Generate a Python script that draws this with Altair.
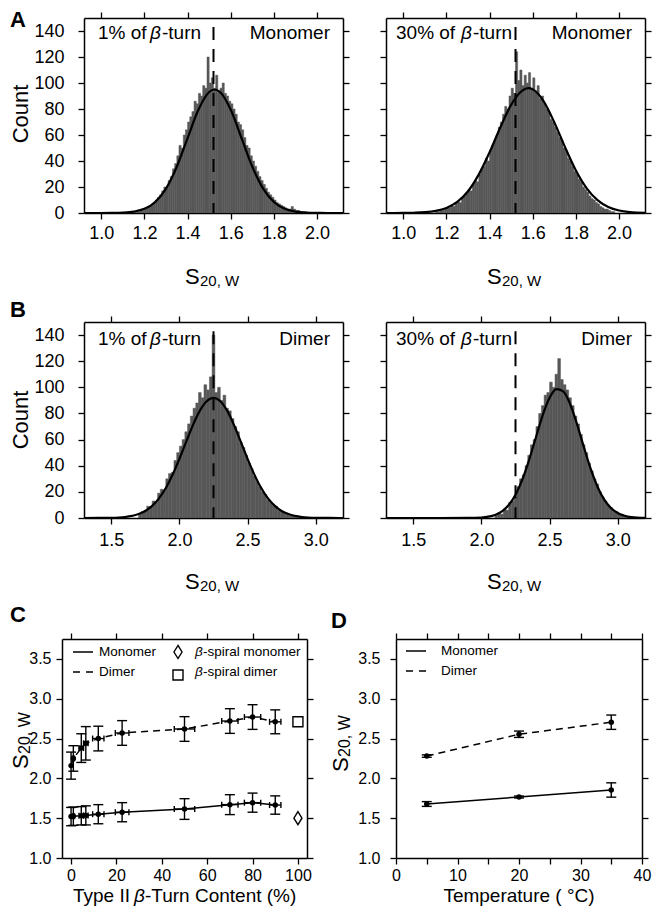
import altair as alt
import pandas as pd

FONT = "Liberation Sans"

# ---------------- data ----------------
# Panel A (monomer) -- histogram counts per 0.01 bin, Gaussian fit sampled points
A1_START, A1_STEP = 1.15, 0.01
A1_COUNTS = [1, 1, 1, 2, 2, 3, 4, 5, 6, 8,
             10, 12, 14, 17, 20, 19, 25, 28, 34, 38,
             44, 52, 50, 60, 64, 70, 74, 78, 86, 84,
             92, 90, 98, 96, 120, 100, 104, 96, 106, 94,
             96, 100, 92, 90, 86, 84, 80, 76, 70, 68,
             64, 58, 52, 50, 44, 40, 36, 32, 28, 25,
             22, 19, 16, 14, 12, 10, 8, 7, 6, 5,
             4, 3, 3, 5, 3, 2, 2, 1, 1, 1]
A1_FIT_X = [0.92, 1.0, 1.05, 1.1, 1.15, 1.2, 1.25, 1.3, 1.35, 1.4, 1.45, 1.5, 1.525,
            1.55, 1.6, 1.65, 1.7, 1.75, 1.8, 1.85, 1.9, 1.95, 2.0, 2.05, 2.12]
A1_FIT_Y = [0, 0.01, 0.07, 0.3, 1.05, 3.2, 8.5, 18.8, 35.6, 57.6, 79.4, 93.1, 95,
            93.1, 79.4, 57.6, 35.6, 18.8, 8.5, 3.2, 1.05, 0.3, 0.07, 0.01, 0]

A2_START, A2_STEP = 1.15, 0.01
A2_COUNTS = [1, 1, 2, 2, 3, 4, 4, 6, 5, 8,
             9, 8, 12, 13, 15, 18, 17, 22, 25, 24,
             30, 34, 36, 42, 40, 48, 52, 56, 60, 66,
             70, 76, 82, 80, 90, 96, 92, 124, 102, 110,
             98, 106, 100, 108, 96, 104, 94, 98, 88, 90,
             84, 80, 78, 72, 70, 66, 62, 58, 56, 50,
             48, 42, 40, 36, 32, 30, 26, 24, 20, 18,
             16, 13, 11, 10, 8, 7, 5, 4, 3, 3,
             2, 1, 1]
A2_FIT_X = [0.92, 1.0, 1.05, 1.1, 1.15, 1.2, 1.25, 1.3, 1.35, 1.4, 1.45, 1.5, 1.55,
            1.58, 1.6, 1.65, 1.7, 1.75, 1.8, 1.85, 1.9, 1.95, 2.0, 2.05, 2.12]
A2_FIT_Y = [0, 0.05, 0.2, 0.6, 1.6, 3.9, 8.5, 16.7, 29.7, 46.7, 66, 83.3, 94,
            96, 95.1, 86.1, 69.7, 50.5, 32.7, 19, 9.9, 4.6, 1.9, 0.7, 0.2]

# Panel B (dimer) -- histogram counts per 0.02 bin
B1_START, B1_STEP = 1.70, 0.02
B1_COUNTS = [3, 5, 6, 9, 8, 13, 12, 19, 22, 21,
             30, 34, 35, 44, 50, 55, 60, 66, 72, 78,
             84, 88, 96, 92, 102, 98, 108, 140, 96, 100,
             90, 94, 84, 82, 76, 70, 66, 58, 54, 48,
             42, 38, 32, 28, 24, 20, 18, 14, 12, 10,
             9, 6, 5, 4, 3, 2, 2, 1, 1, 1]
B1_FIT_X = [1.3, 1.4, 1.5, 1.6, 1.7, 1.75, 1.8, 1.85, 1.9, 1.95, 2.0, 2.05, 2.1, 2.15,
            2.2, 2.25, 2.3, 2.35, 2.4, 2.45, 2.5, 2.55, 2.6, 2.65, 2.7, 2.75, 2.8,
            2.9, 3.0, 3.1, 3.2]
B1_FIT_Y = [0, 0.03, 0.16, 0.76, 3.0, 5.4, 9.3, 15, 22.9, 33.2, 45.3, 58.4, 71.3, 82.2,
            89.4, 92, 89.4, 82.2, 71.3, 58.4, 45.3, 33.2, 22.9, 15, 9.3, 5.4, 3.0,
            0.76, 0.16, 0.03, 0]

B2_START, B2_STEP = 2.10, 0.02
B2_COUNTS = [2, 4, 3, 7, 6, 12, 13, 16, 24, 30,
             33, 40, 48, 56, 60, 70, 80, 86, 94, 96,
             104, 100, 110, 122, 106, 102, 98, 92, 86, 78,
             72, 64, 56, 50, 42, 36, 30, 26, 20, 16,
             13, 10, 8, 6, 5, 3, 3, 2, 1, 1]
B2_FIT_X = [1.3, 1.5, 1.7, 1.9, 2.0, 2.05, 2.1, 2.15, 2.2, 2.25, 2.3, 2.35, 2.4, 2.45,
            2.5, 2.55, 2.6, 2.65, 2.7, 2.75, 2.8, 2.85, 2.9, 2.95, 3.0, 3.05, 3.1, 3.2]
B2_FIT_Y = [0, 0, 0, 0.05, 0.4, 1.0, 2.3, 5.0, 9.9, 17.8, 29.4, 44.5, 61.8, 78.8,
            92, 98.6, 96.9, 87.4, 72.2, 54.8, 38.1, 24.3, 14.2, 7.6, 3.8, 1.7, 0.7, 0.1]

MONO_REF = 1.52
DIMER_REF = 2.25
REF_TOP = 143

A_XTICKS = [1.0, 1.2, 1.4, 1.6, 1.8, 2.0]
B_XTICKS = [1.5, 2.0, 2.5, 3.0]
COUNT_TICKS = [0, 20, 40, 60, 80, 100, 120, 140]

# Panel C
C_X = [0, 1, 4.5, 6.5, 12, 22.5, 50, 70, 80, 90]
C_XERR = [0, 0.5, 1, 1, 2.5, 3, 4.5, 3.6, 3.6, 2.5]
C_MONO = [1.52, 1.525, 1.53, 1.535, 1.55, 1.575, 1.615, 1.67, 1.695, 1.665]
C_MONO_ERR = [0.115, 0.115, 0.115, 0.12, 0.12, 0.12, 0.13, 0.125, 0.12, 0.115]
C_DIMER = [2.16, 2.25, 2.38, 2.44, 2.50, 2.57, 2.62, 2.72, 2.77, 2.71]
C_DIMER_ERR = [0.17, 0.16, 0.18, 0.21, 0.155, 0.155, 0.155, 0.155, 0.155, 0.15]
SPIRAL_X = 100
SPIRAL_MONO = 1.50
SPIRAL_DIMER = 2.71

# Panel D
D_X = [5, 20, 35]
D_MONO = [1.678, 1.766, 1.854]
D_MONO_ERR = [0.03, 0.012, 0.09]
D_DIMER = [2.28, 2.554, 2.705]
D_DIMER_ERR = [0.015, 0.04, 0.09]

S_TICKS = [1.0, 1.5, 2.0, 2.5, 3.0, 3.5]
C_XTICKS = [0, 20, 40, 60, 80, 100]
D_XTICKS = [0, 5, 10, 15, 20, 25, 30, 35, 40]

DIAMOND = "M0,-1L0.62,0L0,1L-0.62,0Z"
ONE = pd.DataFrame({"k": [0]})
BAR_GRAY = "#575757"


# ---------------- helpers ----------------
def axis(orient, values, labels=True, fmt=None, size=18, pad=5, expr=None):
    kw = dict(orient=orient, values=values, labels=labels, title=None, grid=False,
              ticks=True, tickSize=6, tickWidth=1.3, tickColor="black",
              domain=True, domainColor="black", domainWidth=1.5,
              labelFont=FONT, labelFontSize=size, labelColor="black",
              labelPadding=pad, labelFlush=False, labelOverlap=False)
    if fmt:
        kw["format"] = fmt
    if expr:
        kw["labelExpr"] = expr
    return alt.Axis(**kw)


def T(s, x, y, size, align="left", baseline="alphabetic", angle=0,
      weight="normal", style="normal"):
    kw = dict(text=s, font=FONT, fontSize=size, align=align, baseline=baseline,
              fontWeight=weight, fontStyle=style, color="black")
    if angle:
        kw["angle"] = angle
    return alt.Chart(ONE).mark_text(**kw).encode(x=alt.value(x), y=alt.value(y))


def prule(x1, x2, y, dash=None):
    kw = dict(color="black", strokeWidth=1.5)
    if dash:
        kw["strokeDash"] = dash
    return alt.Chart(ONE).mark_rule(**kw).encode(
        x=alt.value(x1), x2=alt.value(x2), y=alt.value(y))


def psym(shape, x, y, size):
    return alt.Chart(ONE).mark_point(shape=shape, size=size, filled=False,
                                     color="black", strokeWidth=1.4, opacity=1).encode(
        x=alt.value(x), y=alt.value(y))


def spacer():
    return alt.Chart(ONE).mark_rule(opacity=0, strokeWidth=0.1).encode(
        x=alt.value(0), x2=alt.value(1), y=alt.value(0)).properties(width=1, height=1)


def hist_panel(start, step, counts, fit_x, fit_y, ref_x, xdom, xticks, w, h,
               pct, pct_x, beta_x, turn_x, kind, show_y, xpad, text_y, s_y, extra):
    n = len(counts)
    dh = pd.DataFrame({"x0": [start + i * step for i in range(n)], "c": counts})
    dh["x1"] = dh["x0"] + step
    xs = alt.Scale(domain=xdom, nice=False, zero=False)
    ys = alt.Scale(domain=[0, 150], nice=False, zero=False)
    bars = alt.Chart(dh).mark_rect(color=BAR_GRAY, stroke=BAR_GRAY, strokeWidth=0.5,
                                   clip=True).encode(
        x=alt.X("x0:Q", scale=xs, axis=axis("bottom", xticks, fmt=".1f", pad=xpad)),
        x2="x1:Q",
        y=alt.Y("c:Q", scale=ys, axis=axis("left", COUNT_TICKS, labels=show_y,
                                          fmt="d", pad=14)),
        y2=alt.datum(0))
    dc = pd.DataFrame({"x": fit_x, "y": fit_y})
    curve = alt.Chart(dc).mark_line(color="black", strokeWidth=2.2,
                                    interpolate="monotone", clip=True).encode(
        x=alt.X("x:Q", scale=xs, axis=axis("top", xticks, labels=False)),
        y=alt.Y("y:Q", scale=ys, axis=axis("right", COUNT_TICKS, labels=False)))
    dr = pd.DataFrame({"x": [ref_x], "top": [REF_TOP], "bot": [0]})
    ref = alt.Chart(dr).mark_rule(color="black", strokeWidth=2,
                                  strokeDash=[13, 9]).encode(
        x=alt.X("x:Q", scale=xs, axis=None),
        y=alt.Y("top:Q", scale=ys, axis=None),
        y2="bot:Q")
    layers = [bars, curve, ref,
              T(pct, pct_x, text_y, 19),
              T("\u03b2", beta_x, text_y, 19, style="italic"),
              T("-turn", turn_x, text_y, 19),
              T(kind, w - 13, text_y, 19, align="right"),
              T("S", 101, s_y, 22),
              T("20, W", 116, s_y + 2, 15)]
    layers += extra
    return alt.layer(*layers).resolve_axis(x="independent", y="independent").properties(
        width=w, height=h)


def err_layers(xv, yv, ev, xerr, xs, ys):
    d = pd.DataFrame({"x": xv, "y": yv, "e": ev, "xe": xerr})
    d["lo"] = d["y"] - d["e"]
    d["hi"] = d["y"] + d["e"]
    d["xlo"] = d["x"] - d["xe"]
    d["xhi"] = d["x"] + d["xe"]
    X = lambda f: alt.X(f, scale=xs, axis=None)
    Y = lambda f: alt.Y(f, scale=ys, axis=None)
    out = [
        alt.Chart(d).mark_rule(color="black", strokeWidth=1.4).encode(
            x=X("x:Q"), y=Y("lo:Q"), y2="hi:Q"),
        alt.Chart(d).mark_tick(color="black", orient="horizontal", size=10,
                               thickness=1.4, opacity=1).encode(x=X("x:Q"), y=Y("lo:Q")),
        alt.Chart(d).mark_tick(color="black", orient="horizontal", size=10,
                               thickness=1.4, opacity=1).encode(x=X("x:Q"), y=Y("hi:Q")),
    ]
    dx = d[d["xe"] > 0]
    if len(dx):
        out += [
            alt.Chart(dx).mark_rule(color="black", strokeWidth=1.4).encode(
                x=X("xlo:Q"), x2="xhi:Q", y=Y("y:Q")),
            alt.Chart(dx).mark_tick(color="black", orient="vertical", size=6,
                                    thickness=1.4, opacity=1).encode(x=X("xlo:Q"), y=Y("y:Q")),
            alt.Chart(dx).mark_tick(color="black", orient="vertical", size=6,
                                    thickness=1.4, opacity=1).encode(x=X("xhi:Q"), y=Y("y:Q")),
        ]
    out.append(alt.Chart(d).mark_circle(color="black", size=30, opacity=1).encode(
        x=X("x:Q"), y=Y("y:Q")))
    return out


def series_panel(xv, xerr, mono, mono_e, dimer, dimer_e, xdom, xticks, expr, w, h,
                 ypad, xpad, extra):
    xs = alt.Scale(domain=xdom, nice=False, zero=False)
    ys = alt.Scale(domain=[1.0, 3.75], nice=False, zero=False)
    d = pd.DataFrame({"x": xv, "m": mono, "d": dimer})
    dim_line = alt.Chart(d).mark_line(color="black", strokeWidth=1.5,
                                      strokeDash=[7, 5]).encode(
        x=alt.X("x:Q", scale=xs, axis=axis("bottom", xticks, size=16, pad=xpad, expr=expr)),
        y=alt.Y("d:Q", scale=ys, axis=axis("left", S_TICKS, fmt=".1f", size=16, pad=ypad)))
    mon_line = alt.Chart(d).mark_line(color="black", strokeWidth=1.5).encode(
        x=alt.X("x:Q", scale=xs, axis=axis("top", xticks, labels=False)),
        y=alt.Y("m:Q", scale=ys, axis=axis("right", S_TICKS, labels=False)))
    layers = [dim_line, mon_line]
    layers += err_layers(xv, dimer, dimer_e, xerr, xs, ys)
    layers += err_layers(xv, mono, mono_e, xerr, xs, ys)
    layers += extra(xs, ys)
    return alt.layer(*layers).resolve_axis(x="independent", y="independent").properties(
        width=w, height=h)


# ---------------- panels A & B ----------------
A1 = hist_panel(A1_START, A1_STEP, A1_COUNTS, A1_FIT_X, A1_FIT_Y, MONO_REF,
                [0.92, 2.12], A_XTICKS, 259, 195, "1% of", 14, 66, 78, "Monomer",
                True, 5, 21, 266,
                [T("A", -74, -8, 22, baseline="top", weight="bold"),
                 T("Count", -56, 96, 22, align="center", angle=270)])
A2 = hist_panel(A2_START, A2_STEP, A2_COUNTS, A2_FIT_X, A2_FIT_Y, MONO_REF,
                [0.92, 2.12], A_XTICKS, 259, 195, "30% of", 10, 75, 87, "Monomer",
                False, 5, 21, 266, [])
B1 = hist_panel(B1_START, B1_STEP, B1_COUNTS, B1_FIT_X, B1_FIT_Y, DIMER_REF,
                [1.3, 3.2], B_XTICKS, 259, 196, "1% of", 14, 66, 78, "Dimer",
                True, 7, 23, 267,
                [T("B", -74, -22, 22, baseline="top", weight="bold"),
                 T("Count", -56, 98, 22, align="center", angle=270)])
B2 = hist_panel(B2_START, B2_STEP, B2_COUNTS, B2_FIT_X, B2_FIT_Y, DIMER_REF,
                [1.3, 3.2], B_XTICKS, 259, 196, "30% of", 10, 75, 87, "Dimer",
                False, 7, 23, 267, [])


# ---------------- panel C ----------------
def c_extra(xs, ys):
    dm = pd.DataFrame({"x": [SPIRAL_X], "y": [SPIRAL_MONO]})
    dd = pd.DataFrame({"x": [SPIRAL_X], "y": [SPIRAL_DIMER]})
    return [
        alt.Chart(dm).mark_point(shape=DIAMOND, size=170, filled=False, color="black",
                                 strokeWidth=1.4, opacity=1).encode(
            x=alt.X("x:Q", scale=xs, axis=None), y=alt.Y("y:Q", scale=ys, axis=None)),
        alt.Chart(dd).mark_point(shape="square", size=100, filled=False, color="black",
                                 strokeWidth=1.4, opacity=1).encode(
            x=alt.X("x:Q", scale=xs, axis=None), y=alt.Y("y:Q", scale=ys, axis=None)),
        prule(11, 31, 13),
        T("Monomer", 37, 13, 13.5, baseline="middle"),
        prule(11, 31, 33, [7, 6]),
        T("Dimer", 37, 33, 13.5, baseline="middle"),
        psym(DIAMOND, 116, 13, 170),
        T("\u03b2", 133, 13, 13.5, baseline="middle", style="italic"),
        T("-spiral monomer", 141, 13, 13.5, baseline="middle"),
        psym("square", 116, 36, 100),
        T("\u03b2", 133, 33, 13.5, baseline="middle", style="italic"),
        T("-spiral dimer", 141, 33, 13.5, baseline="middle"),
        T("Type II", 11, 263, 19),
        T("\u03b2", 72, 263, 19, style="italic"),
        T("-Turn Content (%)", 83, 263, 19),
        T("S", -34, 130, 22, angle=270),
        T("20, W", -32.5, 115, 16, angle=270),
        T("C", -52, -34, 22, baseline="top", weight="bold"),
    ]


C = series_panel(C_X, C_XERR, C_MONO, C_MONO_ERR, C_DIMER, C_DIMER_ERR,
                 [-4, 104], C_XTICKS, None, 245, 219, 5, 3, c_extra)


# ---------------- panel D ----------------
def d_extra(xs, ys):
    return [
        prule(10, 30, 12),
        T("Monomer", 45, 12, 13.5, baseline="middle"),
        prule(10, 30, 32, [7, 6]),
        T("Dimer", 45, 32, 13.5, baseline="middle"),
        T("Temperature ( \u00b0C)", 123, 263, 19, align="center"),
        T("S", -48, 133, 22, angle=270),
        T("20, W", -46.5, 118, 16, angle=270),
        T("D", -65, -28, 22, baseline="top", weight="bold"),
    ]


D = series_panel(D_X, [0, 0, 0], D_MONO, D_MONO_ERR, D_DIMER, D_DIMER_ERR,
                 [0, 40], D_XTICKS, "datum.value % 10 == 0 ? datum.label : ''",
                 246, 219, 10, 3, d_extra)

# rows: a 1px spacer first, so that plot A sits 22px right of plot C
row1 = alt.hconcat(spacer(), alt.hconcat(A1, A2, spacing=43, bounds="flush"),
                   spacing=23, bounds="flush")
row2 = alt.hconcat(spacer(), alt.hconcat(B1, B2, spacing=43, bounds="flush"),
                   spacing=23, bounds="flush")
row3 = alt.hconcat(spacer(), alt.hconcat(C, D, spacing=89, bounds="flush"),
                   spacing=1, bounds="flush")

chart = alt.vconcat(row1, row2, row3, spacing=10).properties(
    padding={"left": 2, "top": 1, "right": 0, "bottom": 0},
    background="white").configure_view(stroke=None)

chart.save("out.html", embed_options={"renderer": "svg", "actions": False})
